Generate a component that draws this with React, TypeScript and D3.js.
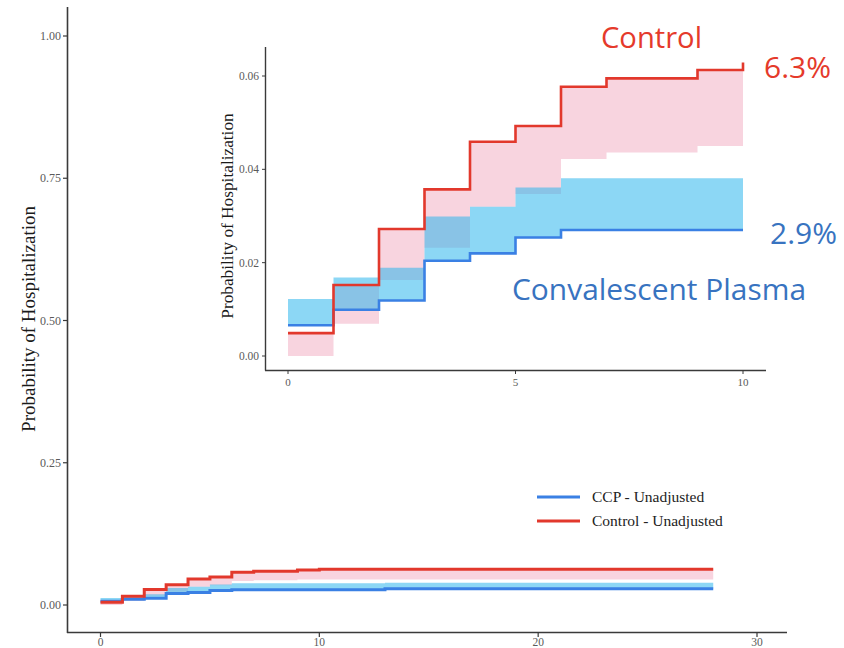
import React from "react";
import * as d3 from "d3";

// ---- data ----
const controlTimes = [0, 1, 2, 3, 4, 5, 6, 7, 9, 10, 28];
const controlEst = [0.0049, 0.0152, 0.0272, 0.0357, 0.0459, 0.0493, 0.0577, 0.0595, 0.0613, 0.0629, 0.0629];
const controlLower = [0.0, 0.0069, 0.0163, 0.0232, 0.032, 0.0347, 0.0422, 0.0436, 0.045, 0.045, 0.045];

const ccpTimes = [0, 1, 2, 3, 4, 5, 6, 13, 28];
const ccpEst = [0.0066, 0.0099, 0.0119, 0.0204, 0.022, 0.0254, 0.027, 0.0285, 0.0285];
const ccpUpper = [0.0122, 0.0168, 0.0189, 0.0299, 0.032, 0.0361, 0.0381, 0.039, 0.039];

const mainXTicks = [0, 10, 20, 30];
const mainYTicks = [0, 0.25, 0.5, 0.75, 1.0];
const insetXTicks = [0, 5, 10];
const insetYTicks = [0, 0.02, 0.04, 0.06];

const legendLabels = ["CCP - Unadjusted", "Control - Unadjusted"];
const yTitle = "Probability of Hospitalization";

const RED = "#e2382c";
const BLUE = "#3a80e4";
const PINK = "#f8d4df";
const LBLUE = "rgb(42,181,236)";
const TXT_RED = "#e53a2b";
const TXT_BLUE = "#3873c0";

type P = { t: number; y: number; y0: number; y1: number };

function buildPts(times: number[], est: number[], lo: number[], hi: number[], tmax: number): P[] {
  const pts: P[] = [];
  let lastIdx = 0;
  times.forEach((t, i) => {
    if (t <= tmax) {
      pts.push({ t, y: est[i], y0: lo[i], y1: hi[i] });
      lastIdx = i;
    }
  });
  if (pts[pts.length - 1].t < tmax) {
    pts.push({ t: tmax, y: est[lastIdx], y0: lo[lastIdx], y1: hi[lastIdx] });
  }
  return pts;
}

function Curves({ x, y, tmax, lw }: { x: d3.ScaleLinear<number, number>; y: d3.ScaleLinear<number, number>; tmax: number; lw: number }) {
  const ctrl = buildPts(controlTimes, controlEst, controlLower, controlEst, tmax);
  const ccp = buildPts(ccpTimes, ccpEst, ccpEst, ccpUpper, tmax);
  const area = d3
    .area<P>()
    .x((d) => x(d.t))
    .y0((d) => y(d.y0))
    .y1((d) => y(d.y1))
    .curve(d3.curveStepAfter);
  const line = d3
    .line<P>()
    .x((d) => x(d.t))
    .y((d) => y(d.y))
    .curve(d3.curveStepAfter);
  return (
    <g>
      <path d={area(ctrl) || ""} fill={PINK} />
      <path d={area(ccp) || ""} fill={LBLUE} fillOpacity={0.54} />
      <path d={line(ccp) || ""} fill="none" stroke={BLUE} strokeWidth={lw} />
      <path d={line(ctrl) || ""} fill="none" stroke={RED} strokeWidth={lw} />
    </g>
  );
}

export default function App() {
  const W = 844;
  const H = 648;

  // main chart scales
  const mx = d3.scaleLinear().domain([0, 30]).range([100.5, 757]);
  const my = d3.scaleLinear().domain([0, 1]).range([605, 36]);

  // inset scales
  const ix = d3.scaleLinear().domain([0, 10]).range([288, 743]);
  const iy = d3.scaleLinear().domain([0, 0.06]).range([356, 76]);

  const serif = "'Liberation Serif', 'DejaVu Serif', serif";
  const sans = "'Open Sans', 'Noto Sans', sans-serif";
  const axisCol = "#3a3a3a";
  const tickTxt = "#5a5a5a";

  return (
    <svg width={W} height={H} style={{ position: "absolute", left: 0, top: 0, background: "#fff" }}>
      <rect x={0} y={0} width={W} height={H} fill="#fff" />

      {/* ===== main chart ===== */}
      <Curves x={mx} y={my} tmax={28} lw={3} />

      {/* axes */}
      <line x1={67.5} y1={7} x2={67.5} y2={633} stroke={axisCol} strokeWidth={1.6} />
      <line x1={67} y1={632.5} x2={787} y2={632.5} stroke={axisCol} strokeWidth={1.6} />
      {mainYTicks.map((v) => (
        <g key={"my" + v}>
          <line x1={63} x2={67.5} y1={my(v)} y2={my(v)} stroke={axisCol} strokeWidth={1.2} />
          <text x={61} y={my(v)} dy="0.35em" textAnchor="end" fontFamily={serif} fontSize={12} fill={tickTxt}>
            {v.toFixed(2)}
          </text>
        </g>
      ))}
      {mainXTicks.map((v) => (
        <g key={"mx" + v}>
          <line x1={mx(v)} x2={mx(v)} y1={632.5} y2={637} stroke={axisCol} strokeWidth={1.2} />
          <text x={mx(v)} y={646} textAnchor="middle" fontFamily={serif} fontSize={11.5} fill={tickTxt}>
            {v}
          </text>
        </g>
      ))}
      <text
        transform={`translate(35,319) rotate(-90)`}
        textAnchor="middle"
        fontFamily={serif}
        fontSize={19}
        fill="#1a1a1a"
      >
        {yTitle}
      </text>

      {/* legend */}
      {legendLabels.map((lab, i) => (
        <g key={lab} transform={`translate(0,${497 + i * 24})`}>
          <line x1={537} x2={580} y1={0} y2={0} stroke={i === 0 ? BLUE : RED} strokeWidth={3.2} />
          <text x={592} y={0} dy="0.35em" fontFamily={serif} fontSize={15.5} fill="#222">
            {lab}
          </text>
        </g>
      ))}

      {/* ===== inset ===== */}
      <Curves x={ix} y={iy} tmax={10} lw={2.6} />
      <line x1={265.5} y1={47} x2={265.5} y2={370.5} stroke={axisCol} strokeWidth={1.4} />
      <line x1={265} y1={370.5} x2={766} y2={370.5} stroke={axisCol} strokeWidth={1.4} />
      {insetYTicks.map((v) => (
        <g key={"iy" + v}>
          <line x1={262} x2={265.5} y1={iy(v)} y2={iy(v)} stroke={axisCol} strokeWidth={1} />
          <text x={259} y={iy(v)} dy="0.35em" textAnchor="end" fontFamily={serif} fontSize={11.5} fill={tickTxt}>
            {v.toFixed(2)}
          </text>
        </g>
      ))}
      {insetXTicks.map((v) => (
        <g key={"ix" + v}>
          <line x1={ix(v)} x2={ix(v)} y1={370.5} y2={374} stroke={axisCol} strokeWidth={1} />
          <text x={ix(v)} y={386} textAnchor="middle" fontFamily={serif} fontSize={11} fill={tickTxt}>
            {v}
          </text>
        </g>
      ))}
      <text
        transform={`translate(233,216) rotate(-90)`}
        textAnchor="middle"
        fontFamily={serif}
        fontSize={17.3}
        fill="#1a1a1a"
      >
        {yTitle}
      </text>

      {/* annotations */}
      <text x={601} y={48} fontFamily={sans} fontSize={29} fill={TXT_RED} textLength={101} lengthAdjust="spacingAndGlyphs">
        Control
      </text>
      <text x={764} y={78} fontFamily={sans} fontSize={29} fill={TXT_RED} textLength={67} lengthAdjust="spacingAndGlyphs">
        6.3%
      </text>
      <text x={770} y={244} fontFamily={sans} fontSize={29} fill={TXT_BLUE} textLength={67} lengthAdjust="spacingAndGlyphs">
        2.9%
      </text>
      <text x={512} y={300} fontFamily={sans} fontSize={30} fill={TXT_BLUE} textLength={294} lengthAdjust="spacingAndGlyphs">
        Convalescent Plasma
      </text>
    </svg>
  );
}
